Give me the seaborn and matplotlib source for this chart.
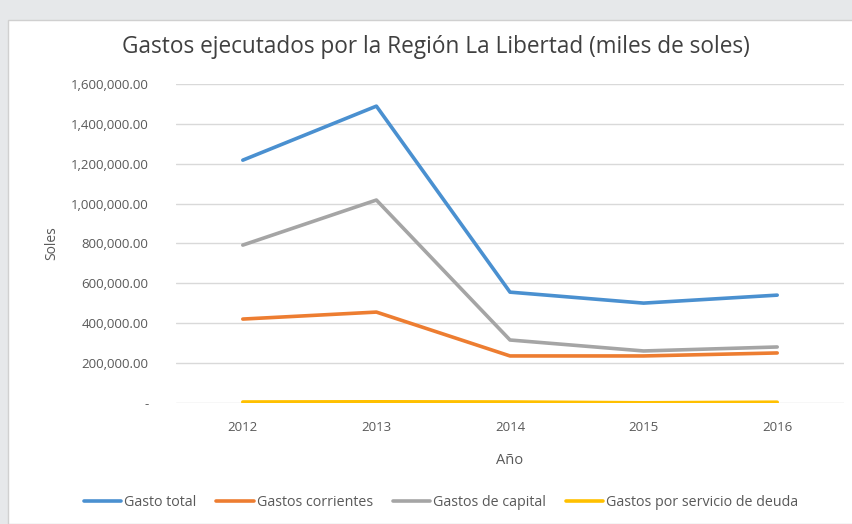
import matplotlib.pyplot as plt
import matplotlib.ticker as mticker
import pandas as pd
import seaborn as sns
from matplotlib.patches import Rectangle

years = ["2012", "2013", "2014", "2015", "2016"]
gasto_total = [1218000, 1489000, 556000, 501000, 541000]
gastos_corrientes = [421000, 456000, 236000, 236000, 251000]
gastos_capital = [792000, 1018000, 316000, 261000, 281000]
gastos_deuda = [5000, 6000, 5000, 1000, 4000]

series_names = [
    "Gasto total",
    "Gastos corrientes",
    "Gastos de capital",
    "Gastos por servicio de deuda",
]
colors = ["#4a90d0", "#ed7d31", "#a5a5a5", "#ffc000"]

df = pd.DataFrame(
    {
        "Año": years * 4,
        "Soles": gasto_total + gastos_corrientes + gastos_capital + gastos_deuda,
        "Serie": [name for name in series_names for _ in years],
    }
)

sns.set_theme(style="white")
plt.rcParams["font.family"] = ["Open Sans", "DejaVu Sans"]

fig = plt.figure(figsize=(8.53, 5.24), dpi=100)
fig.patch.set_facecolor("#e6e8ea")
# white chart panel over the grey screenshot background
fig.patches.append(
    Rectangle((8 / 853, 0), 1 - 8 / 853, 1 - 20 / 524, transform=fig.transFigure,
              facecolor="white", edgecolor="#d0d0d0", lw=1, zorder=-10)
)
ax = fig.add_axes([176 / 853, 1 - 403 / 524, (844 - 176) / 853, (403 - 84) / 524])
ax.set_facecolor("none")

sns.lineplot(
    data=df,
    x="Año",
    y="Soles",
    hue="Serie",
    hue_order=series_names,
    palette=colors,
    linewidth=2.6,
    sort=False,
    ax=ax,
)

ax.set_xlim(-0.5, 4.5)
ax.set_ylim(0, 1600000)
ax.set_yticks(range(0, 1600001, 200000))
ax.yaxis.set_major_formatter(
    mticker.FuncFormatter(lambda v, _: "-" if v == 0 else f"{v:,.2f}")
)
ax.grid(axis="y", color="#d9d9d9", lw=1)
ax.set_axisbelow(True)
for side in ["top", "right", "left", "bottom"]:
    ax.spines[side].set_visible(False)
ax.tick_params(axis="y", length=0, labelsize=9.5, colors="#595959", pad=20)
ax.tick_params(axis="x", length=0, labelsize=9.5, colors="#595959", pad=13)

ax.set_xlabel("Año", fontsize=10.5, color="#595959", labelpad=14)
ax.set_ylabel("Soles", fontsize=10, color="#595959", labelpad=8)
fig.text(0.511, 1 - 47 / 524, "Gastos ejecutados por la Región La Libertad (miles de soles)",
         ha="center", va="center", fontsize=16.3, color="#404040")

handles, labels = ax.get_legend_handles_labels()
ax.legend_.remove()
fig.legend(handles, labels, loc="center", bbox_to_anchor=(441 / 853, 1 - 503 / 524),
           ncol=4, frameon=False, fontsize=10.3, handlelength=2.6, columnspacing=1.4,
           labelcolor="#595959", handletextpad=0.2)

fig.savefig("out.png", dpi=100)
